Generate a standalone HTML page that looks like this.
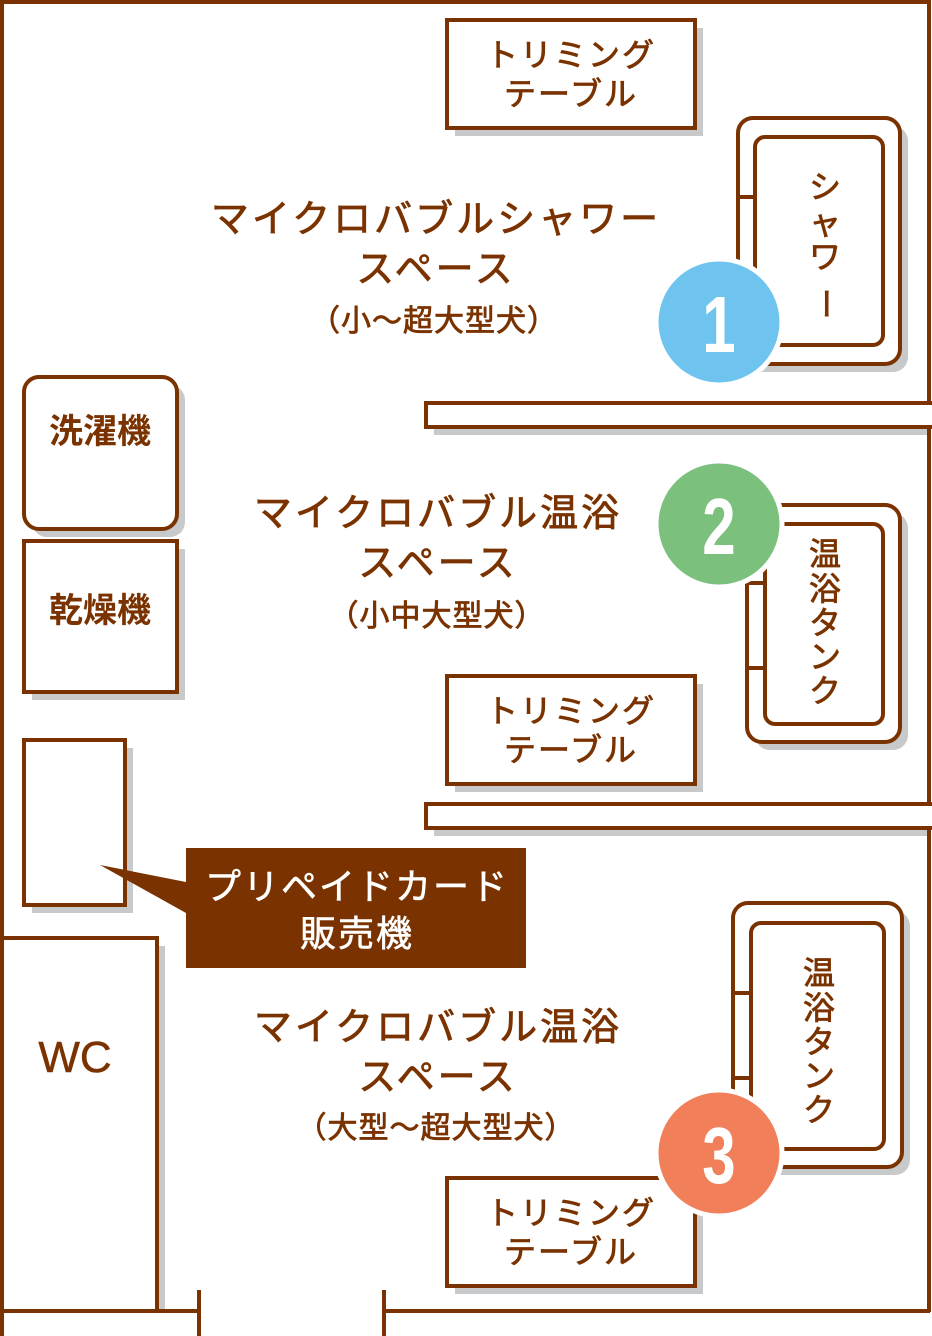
<!DOCTYPE html>
<html><head><meta charset="utf-8"><style>
html,body{margin:0;padding:0;background:#fff;}
svg{display:block;}
text{font-family:"Liberation Sans","Noto Sans CJK JP",sans-serif;}
</style></head><body>
<svg width="932" height="1336" viewBox="0 0 932 1336" xmlns="http://www.w3.org/2000/svg">
<g fill="#c8c9ca">
<rect x="455" y="28" width="248" height="108"/>
<rect x="746" y="126" width="162" height="246" rx="15"/>
<rect x="434" y="411" width="496" height="24"/>
<rect x="32" y="385" width="153" height="152" rx="15"/>
<rect x="32" y="549" width="153" height="151"/>
<rect x="755" y="513" width="153" height="237" rx="15"/>
<rect x="455" y="684" width="248" height="108"/>
<rect x="434" y="812" width="496" height="24"/>
<rect x="32" y="748" width="101" height="165"/>
<rect x="741" y="911" width="169" height="264" rx="15"/>
<rect x="455" y="1186" width="248" height="108"/>
<rect x="10" y="946" width="155" height="366"/>
</g>
<g fill="#fff" stroke="#7a3300" stroke-width="4">
<path d="M2,0 V1336 M0,2 H930 M929,0 V1312" fill="none"/>
<path d="M0,1311 H199 M384,1311 H930 M199,1290 V1336 M384,1290 V1336" fill="none"/>
<rect x="447" y="20" width="248" height="108"/>
<rect x="738" y="118" width="162" height="246" rx="15"/>
<rect x="755" y="137" width="128" height="208" rx="10"/>
<line x1="738" y1="197" x2="755" y2="197"/>
<rect x="426" y="403" width="510" height="24"/>
<rect x="24" y="377" width="153" height="152" rx="15"/>
<rect x="24" y="541" width="153" height="151"/>
<rect x="747" y="505" width="153" height="237" rx="15"/>
<rect x="765" y="524" width="118" height="200" rx="10"/>
<line x1="747" y1="583" x2="765" y2="583"/>
<line x1="747" y1="668" x2="765" y2="668"/>
<rect x="447" y="676" width="248" height="108"/>
<rect x="426" y="804" width="510" height="24"/>
<rect x="24" y="740" width="101" height="165"/>
<rect x="733" y="903" width="169" height="264" rx="15"/>
<rect x="751" y="923" width="133" height="226" rx="10"/>
<line x1="733" y1="993" x2="751" y2="993"/>
<line x1="733" y1="1078" x2="751" y2="1078"/>
<rect x="447" y="1178" width="248" height="108"/>
<rect x="2" y="938" width="155" height="373"/>
</g>
<path d="M186,848 H526 V968 H186 V913 L100,865 L186,882 Z" fill="#7a3300"/>
<g fill="#7a3300" stroke="#7a3300" stroke-width="0.8" text-anchor="middle">
<g font-size="32" letter-spacing="2"><text x="571" y="66">トリミング</text><text x="571" y="105">テーブル</text>
<text x="571" y="722">トリミング</text><text x="571" y="761">テーブル</text>
<text x="571" y="1224">トリミング</text><text x="571" y="1263">テーブル</text></g>
<g font-size="38" letter-spacing="3">
<text x="436" y="232">マイクロバブルシャワー</text><text x="436" y="282">スペース</text>
<text x="438" y="526">マイクロバブル温浴</text><text x="438" y="576">スペース</text>
<text x="438" y="1040">マイクロバブル温浴</text><text x="438" y="1090">スペース</text></g>
<g font-size="30" letter-spacing="1">
<text x="434" y="331">（小〜超大型犬）</text>
<text x="437" y="626">（小中大型犬）</text>
<text x="436" y="1138">（大型〜超大型犬）</text></g>
<g font-size="34" font-weight="bold" stroke-width="0"><text x="100" y="443">洗濯機</text><text x="100" y="622">乾燥機</text></g>
<text x="75" y="1072" font-size="44" stroke-width="0.5">WC</text>
<g font-size="32"><text x="825" y="198">シ</text><text x="825" y="234">ャ</text><text x="825" y="268">ワ</text><text x="825" y="304" writing-mode="tb">ー</text></g>
<g font-size="32"><text x="825" y="565">温</text><text x="825" y="600">浴</text><text x="825" y="634">タ</text><text x="825" y="668">ン</text><text x="825" y="702">ク</text></g>
<g font-size="32"><text x="819" y="984">温</text><text x="819" y="1019">浴</text><text x="819" y="1053">タ</text><text x="819" y="1087">ン</text><text x="819" y="1121">ク</text></g>
</g>
<g fill="#fff" stroke="#fff" stroke-width="0.6" text-anchor="middle" font-size="36" letter-spacing="2"><text x="357" y="899">プリペイドカード</text><text x="357" y="946">販売機</text></g>
<g stroke="#fff" stroke-width="5">
<circle cx="719" cy="322" r="63" fill="#6ec4ee"/>
<circle cx="719" cy="524" r="63" fill="#7bc07d"/>
<circle cx="719" cy="1153" r="63" fill="#f07f5a"/>
</g>
<g fill="#fff" text-anchor="middle" font-size="80" font-weight="bold">
<text x="719" y="352" transform="translate(719 0) scale(0.75 1) translate(-719 0)">1</text>
<text x="719" y="554" transform="translate(719 0) scale(0.75 1) translate(-719 0)">2</text>
<text x="719" y="1183" transform="translate(719 0) scale(0.75 1) translate(-719 0)">3</text>
</g>
</svg>
</body></html>
